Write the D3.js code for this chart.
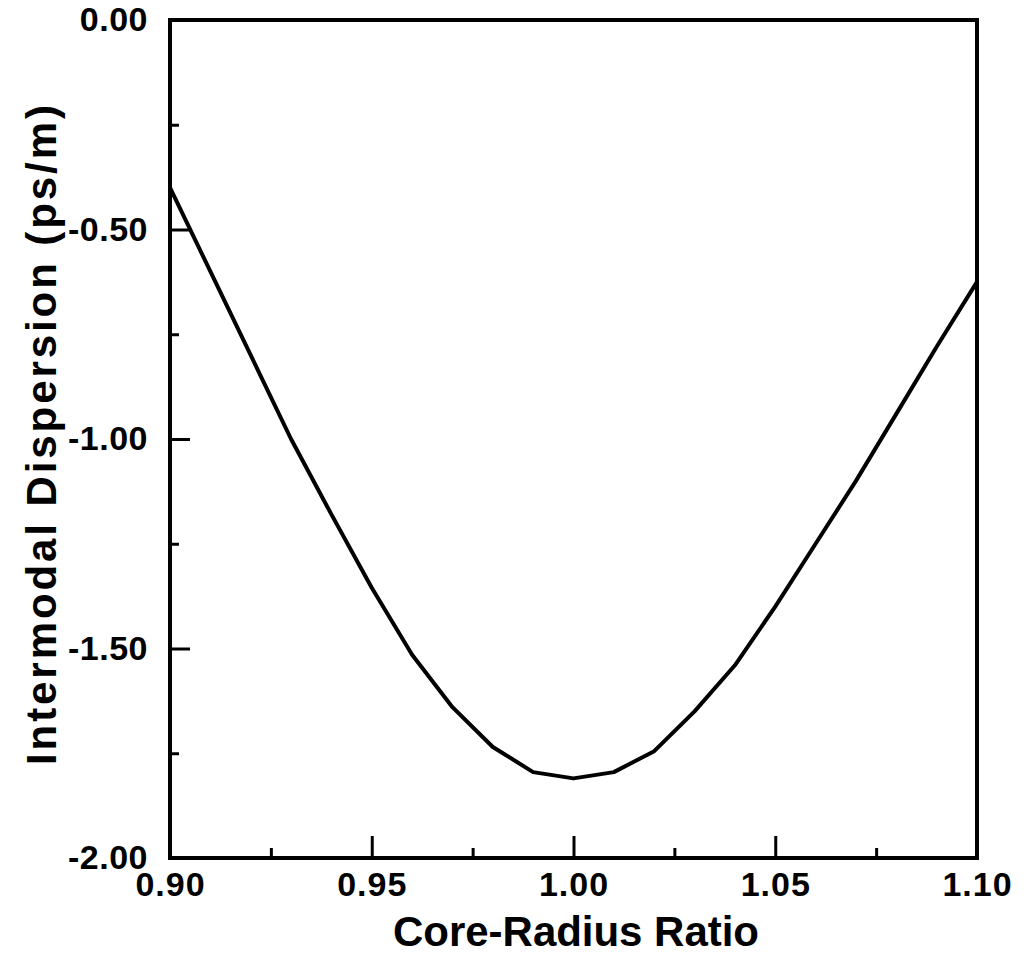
<!DOCTYPE html>
<html>
    <head>
        <script src="https://d3js.org/d3.v7.min.js"></script>
        <style>
            body { margin: 0; background: white; }
            text { font-family: "Liberation Sans", Arial, sans-serif; font-weight: bold; fill: black; }
        </style>
    </head>
    <body>
        <script>
            // values (core-radius ratio vs intermodal dispersion)
            const ratio = [0.90, 0.91, 0.92, 0.93, 0.94, 0.95, 0.96, 0.97, 0.98, 0.99, 1.00,
                           1.01, 1.02, 1.03, 1.04, 1.05, 1.06, 1.07, 1.08, 1.09, 1.10];
            const dispersion = [-0.40, -0.60, -0.80, -1.00, -1.18, -1.355, -1.515, -1.64, -1.735, -1.795, -1.81,
                                -1.795, -1.745, -1.65, -1.54, -1.40, -1.25, -1.10, -0.94, -0.78, -0.625];
            const xLabels = [0.90, 0.95, 1.00, 1.05, 1.10];
            const xMinor = [0.925, 0.975, 1.025, 1.075];
            const yLabels = [0.00, -0.50, -1.00, -1.50, -2.00];
            const yMinor = [-0.25, -0.75, -1.25, -1.75];

            (() => {
            let data = ratio.map((r, i) => ({x: r, y: dispersion[i]}));
            let fmt = (d) => d.toFixed(2); // plain hyphen, not unicode minus

            let width = 1030, height = 963;
            let mLeft = 170, mRight = 977, mTop = 20, mBottom = 858;

            let svg = d3.select("body")
                .append("svg")
                .attr("width", width)
                .attr("height", height);

            let x = d3.scaleLinear().domain([0.90, 1.10]).range([mLeft, mRight]);
            let y = d3.scaleLinear().domain([-2, 0]).range([mBottom, mTop]);

            // minor ticks (short, inward)
            svg.append("g")
                .attr("transform", `translate(0, ${mBottom})`)
                .call(d3.axisBottom(x).tickValues(xMinor).tickSize(-10).tickFormat(""))
                .call(g => g.select(".domain").remove());
            svg.append("g")
                .attr("transform", `translate(${mLeft}, 0)`)
                .call(d3.axisLeft(y).tickValues(yMinor).tickSize(-9).tickFormat(""))
                .call(g => g.select(".domain").remove());

            // major ticks with labels
            let xAxis = svg.append("g")
                .attr("transform", `translate(0, ${mBottom})`)
                .call(d3.axisBottom(x).tickValues(xLabels).tickSize(-22).tickPadding(14).tickFormat(fmt))
                .call(g => g.select(".domain").remove());
            xAxis.attr("font-family", null).attr("font-size", null);
            xAxis.selectAll("text")
                .attr("font-size", 34)
                .style("letter-spacing", "1px");

            let yAxis = svg.append("g")
                .attr("transform", `translate(${mLeft}, 0)`)
                .call(d3.axisLeft(y).tickValues(yLabels).tickSize(-20).tickPadding(22).tickFormat(fmt))
                .call(g => g.select(".domain").remove());
            yAxis.attr("font-family", null).attr("font-size", null);
            yAxis.selectAll("text")
                .attr("font-size", 34)
                .style("letter-spacing", "0.5px");

            svg.selectAll(".tick line")
                .attr("stroke", "black")
                .attr("stroke-width", 3);

            // hide tick marks that would sit on the frame
            xAxis.selectAll(".tick line").filter(d => d === 0.90 || d === 1.10).remove();
            yAxis.selectAll(".tick line").filter(d => d === 0 || d === -2).remove();

            // frame
            svg.append("rect")
                .attr("x", mLeft)
                .attr("y", mTop)
                .attr("width", mRight - mLeft)
                .attr("height", mBottom - mTop)
                .attr("fill", "none")
                .attr("stroke", "black")
                .attr("stroke-width", 4);

            // curve
            let line = d3.line()
                .x(d => x(d.x))
                .y(d => y(d.y));

            svg.append("path")
                .datum(data)
                .attr("d", line)
                .attr("fill", "none")
                .attr("stroke", "black")
                .attr("stroke-width", 4)
                .attr("stroke-linejoin", "round");

            // axis titles
            svg.append("text")
                .attr("x", 576)
                .attr("y", 946)
                .attr("text-anchor", "middle")
                .attr("font-size", 42)
                .attr("textLength", 366)
                .attr("lengthAdjust", "spacing")
                .text("Core-Radius Ratio");

            svg.append("text")
                .attr("transform", "translate(56, 435) rotate(-90)")
                .attr("text-anchor", "middle")
                .attr("font-size", 42)
                .attr("textLength", 660)
                .attr("lengthAdjust", "spacing")
                .text("Intermodal Dispersion (ps/m)");
            })();
        </script>
    </body>
</html>
